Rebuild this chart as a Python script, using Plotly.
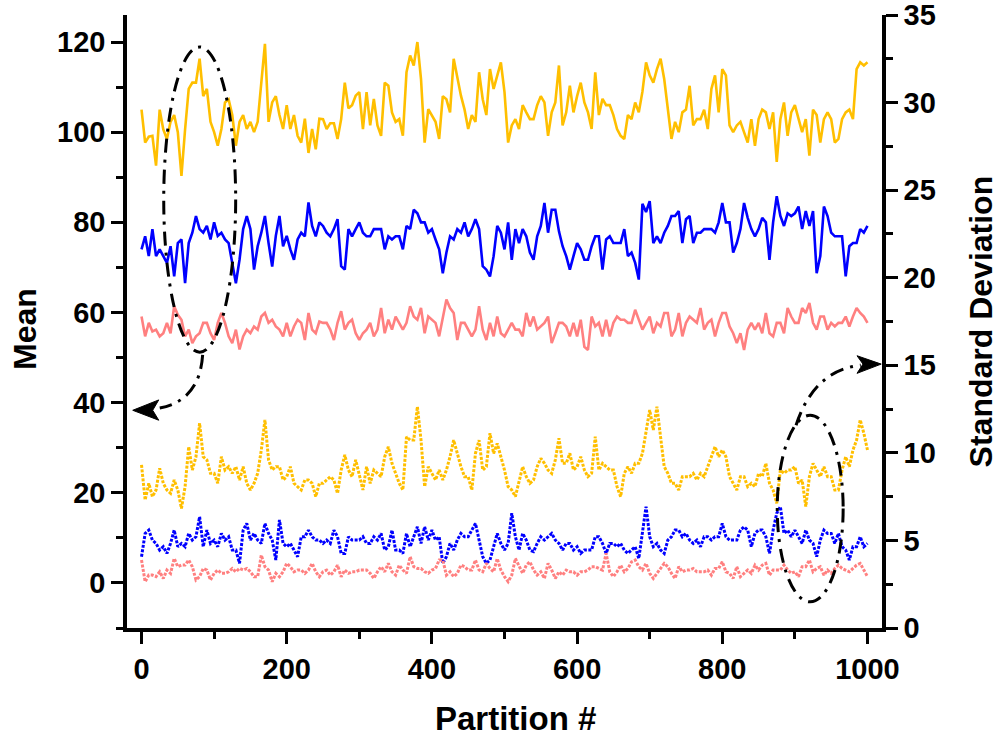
import plotly.graph_objects as go

# Partition index (every 5th partition)
partition = list(range(0, 1001, 5))

# Mean per partition (left axis)
mean_a = [
    105.0, 97.7, 99.0, 99.2, 92.6, 105.0, 100.6, 98.5, 102.3, 103.8,
    100.0, 90.3, 100.6, 109.6, 111.0, 111.0, 116.3, 108.0, 109.6, 102.3,
    100.0, 97.0, 100.7, 106.6, 107.3, 103.8, 97.0, 102.3, 103.8, 100.7,
    102.3, 100.0, 102.3, 111.8, 119.6, 102.3, 106.6, 108.0, 103.8, 100.7,
    106.0, 100.7, 103.8, 99.2, 97.7, 103.0, 95.4, 100.7, 96.2, 103.0,
    102.9, 100.7, 102.0, 102.0, 98.5, 102.9, 111.0, 105.3, 106.0, 108.1,
    108.9, 100.7, 108.9, 101.5, 107.4, 101.5, 99.2, 111.0, 110.3, 104.4,
    102.3, 102.9, 99.2, 113.3, 117.0, 114.8, 120.0, 111.8, 97.7, 105.1,
    103.6, 102.3, 98.5, 108.0, 107.3, 104.4, 116.3, 111.8, 108.1, 105.0,
    100.7, 103.8, 102.3, 113.3, 107.3, 103.8, 114.0, 109.6, 112.6, 115.5,
    108.9, 97.7,
    101.5, 102.9, 100.7, 106.0, 104.4, 102.9, 102.9, 106.0, 108.0, 106.6,
    99.2, 104.4, 106.6, 114.8, 101.5, 104.4, 110.3, 104.4, 108.0, 111.0,
    106.6, 104.4, 100.7, 113.3, 103.8, 107.4, 106.0, 106.0, 103.8, 100.7,
    99.2, 98.5, 103.8, 102.9, 106.6, 104.4, 109.0, 115.5, 112.6, 111.0,
    114.0, 116.3, 111.8, 104.4, 98.5, 102.3, 100.0, 104.4, 105.0,
    110.3, 101.5, 102.9, 102.9, 105.0, 100.7, 109.6, 112.6, 104.4, 114.0,
    112.6, 101.5, 100.0, 101.5, 102.3, 100.0, 97.7, 102.9, 97.0, 102.9,
    105.0, 104.4, 100.7, 104.4, 93.4, 102.9, 106.6, 99.2, 104.4, 106.0,
    102.9, 100.0, 102.9, 94.8, 105.0, 103.8, 97.7, 102.9, 104.4, 102.9,
    97.7, 98.5, 102.9, 104.4, 105.0, 102.9, 114.0, 115.5, 114.8, 115.5,
]

mean_b = [
    74.0, 76.9, 72.5, 78.5, 72.5, 74.0, 72.5, 71.0, 74.7, 68.0,
    75.4, 76.2, 66.5, 75.4, 77.7, 81.4, 78.5, 77.7, 79.2, 76.2,
    80.0, 77.0, 77.7, 76.2, 75.4, 71.0, 66.5, 71.7, 78.5, 81.4,
    78.5, 69.5, 74.7, 77.7, 81.4, 75.4, 70.2, 77.0, 81.4, 74.7,
    77.0, 74.0, 71.7, 76.2, 77.7, 76.9, 84.4, 79.2, 76.9, 80.0,
    79.2, 77.7, 76.9, 78.5, 80.7, 70.3, 69.5, 78.5, 76.9, 78.5,
    80.0, 77.7, 76.9, 76.9, 78.5, 78.5, 78.5, 74.0, 76.9, 76.2,
    76.9, 76.9, 74.0, 79.2, 78.5, 82.8, 82.0, 80.0, 80.0, 77.7,
    78.5, 76.2, 74.0, 68.7, 73.3, 76.9, 76.2, 78.5, 77.7, 80.0,
    76.9, 78.5, 80.7, 78.5, 70.3, 69.5, 68.0, 72.5, 79.2, 77.7,
    74.0, 80.0,
    71.7, 78.5, 75.4, 78.5, 76.9, 73.3, 71.7, 76.9, 79.2, 84.3,
    77.7, 82.8, 82.8, 78.0, 74.7, 72.5, 69.5, 72.5, 75.4, 74.0,
    71.7, 71.7, 74.7, 76.9, 76.9, 69.5, 76.2, 76.9, 75.4, 75.4,
    75.4, 78.5, 72.5, 73.3, 71.0, 67.3, 84.1, 82.3, 84.7, 75.4,
    76.9, 75.4, 77.7, 79.2, 81.4, 81.4, 82.5, 75.4, 80.7,
    81.4, 75.4, 77.7, 77.7, 78.5, 78.5, 78.5, 77.7, 80.0, 84.3,
    80.0, 80.0, 73.3, 75.4, 78.5, 84.3, 81.0, 78.5, 76.9, 78.5,
    81.0, 80.0, 71.7, 80.0, 85.8, 81.4, 79.2, 82.0, 81.4, 82.0,
    83.5, 78.5, 82.5, 79.2, 82.5, 68.7, 72.5, 83.5, 81.4, 77.7,
    76.9, 76.9, 76.9, 68.0, 74.7, 75.4, 75.4, 78.5, 77.7, 79.2,
]

mean_c = [
    59.1, 54.7, 57.7, 55.8, 56.2, 54.7, 55.4, 57.7, 55.4, 61.4,
    59.5, 58.4, 54.7, 56.2, 53.2, 54.7, 55.4, 57.7, 57.7, 55.4,
    53.9, 57.7, 59.9, 57.7, 54.7, 53.2, 56.2, 51.8, 54.7, 56.2,
    55.4, 56.9, 56.2, 59.1, 59.9, 57.7, 58.4, 56.9, 56.2, 54.7,
    57.7, 54.7, 56.9, 58.4, 57.7, 53.9, 59.9, 56.2, 55.4, 58.0,
    57.7, 57.7, 56.2, 53.9, 57.7, 60.3, 56.2, 57.7, 58.4, 55.4,
    53.9, 55.4, 56.2, 57.7, 54.7, 56.2, 61.0, 55.4, 58.4, 56.2,
    59.1, 57.7, 56.2, 57.7, 61.4, 59.1, 58.4, 61.0, 55.4, 59.1,
    58.4, 57.7, 54.7, 59.1, 62.9, 61.0, 59.9, 53.9, 57.7, 57.7,
    56.2, 54.7, 56.2, 61.4, 56.2, 53.9, 57.7, 54.7, 59.1, 55.4,
    54.7, 56.2,
    57.7, 56.2, 56.2, 54.7, 59.9, 56.9, 59.1, 56.2, 56.9, 57.7,
    59.1, 53.2, 55.4, 57.7, 57.7, 56.9, 54.7, 57.7, 54.7, 58.4,
    52.4, 51.7, 59.1, 56.9, 57.7, 54.7, 58.4, 54.7, 57.7, 59.1,
    58.4, 58.4, 57.7, 57.7, 60.6, 58.4, 56.2, 57.7, 59.1, 55.4,
    57.7, 56.9, 59.9, 59.9, 54.7, 56.2, 59.9, 54.7, 57.7,
    59.1, 58.4, 57.7, 61.0, 56.2, 57.7, 58.4, 54.7, 57.7, 59.9,
    59.9, 56.9, 55.4, 53.2, 55.4, 51.7, 56.2, 57.7, 56.2, 57.7,
    55.4, 59.9, 55.4, 54.7, 57.7, 57.7, 55.4, 61.0, 59.1, 57.7,
    57.7, 61.0, 59.9, 62.1, 57.7, 56.2, 59.1, 59.1, 56.2, 57.7,
    56.9, 57.7, 57.7, 59.1, 56.9, 59.1, 61.0, 59.9, 59.1, 57.7,
]

# Standard deviation per partition (right axis)
sd_a = [
    9.31, 7.31, 8.26, 7.50, 7.88, 9.12, 8.26, 7.88, 7.69, 8.45,
    7.88, 6.83, 8.07, 10.35, 9.02, 9.78, 11.69, 9.78, 9.60, 8.83,
    8.83, 8.26, 9.78, 9.02, 9.21, 8.83, 9.21, 8.45, 9.21, 8.26,
    7.88, 8.26, 8.83, 10.16, 11.88, 9.60, 9.02, 9.21, 9.21, 8.45,
    8.64, 9.21, 8.26, 8.07, 7.88, 8.45, 8.45, 8.26, 7.50, 8.26,
    8.26, 8.45, 8.64, 8.45, 7.69, 9.02, 9.88, 9.02, 8.64, 9.60,
    8.64, 7.88, 9.21, 8.26, 9.02, 8.83, 8.64, 9.78, 10.35, 9.40,
    8.83, 8.26, 7.88, 10.92, 10.73, 10.73, 12.64, 10.73, 8.07, 9.21,
    8.83, 8.45, 9.02, 8.45, 9.02, 9.78, 10.73, 9.97, 9.21, 8.64,
    8.64, 7.88, 9.97, 10.73, 9.02, 9.21, 11.12, 9.97, 10.54, 9.78,
    9.02, 8.07,
    7.88, 7.50, 8.45, 9.21, 8.64, 8.26, 8.45, 9.21, 9.69, 9.40,
    9.02, 8.83, 9.60, 10.83, 9.40, 9.40, 9.97, 9.02, 9.21, 9.78,
    9.02, 8.64, 8.83, 10.92, 9.02, 9.40, 9.21, 9.02, 9.02, 8.07,
    7.50, 8.83, 9.21, 8.83, 9.40, 9.40, 9.97, 11.10, 12.45, 11.30,
    12.64, 10.90, 9.21, 8.83, 8.26, 8.26, 7.88, 8.64, 8.64,
    8.64, 8.83, 8.45, 8.83, 8.64, 9.21, 9.78, 10.35, 9.78, 10.16,
    9.78, 8.64, 8.26, 7.88, 8.64, 8.64, 8.07, 8.26, 8.07, 8.83,
    8.64, 9.40, 8.26, 7.88, 7.12, 9.02, 8.83, 9.02, 9.02, 9.21,
    8.26, 8.45, 6.93, 8.64, 9.40, 9.02, 8.64, 9.21, 8.64, 8.64,
    7.88, 7.88, 9.02, 9.78, 9.21, 10.16, 10.73, 11.88, 11.12, 10.16,
]

sd_b = [
    4.07, 5.40, 5.59, 5.02, 4.83, 4.45, 4.64, 4.26, 4.83, 5.59,
    4.64, 4.83, 4.64, 5.40, 5.02, 5.21, 6.35, 4.64, 5.59, 4.83,
    5.02, 4.64, 5.40, 5.02, 5.21, 4.45, 4.45, 3.69, 5.59, 5.97,
    5.02, 5.40, 5.02, 4.83, 5.97, 5.40, 5.02, 3.88, 6.17, 4.83,
    4.64, 4.83, 4.45, 4.07, 5.21, 5.21, 5.59, 5.21, 5.02, 5.02,
    4.83, 5.02, 4.83, 5.59, 5.21, 4.26, 4.26, 5.21, 5.02, 5.02,
    5.02, 5.21, 4.83, 4.83, 5.21, 5.02, 5.40, 4.45, 4.64, 5.59,
    4.45, 4.45, 4.26, 5.40, 4.64, 5.21, 5.78, 4.83, 5.78, 5.02,
    5.59, 5.02, 5.21, 3.69, 4.07, 4.83, 4.45, 5.02, 5.40, 5.21,
    5.21, 5.59, 5.97, 5.02, 4.07, 3.69, 3.88, 4.64, 5.40, 4.83,
    4.45, 4.83,
    6.55, 5.21, 4.45, 5.40, 5.02, 4.45, 4.36, 4.83, 5.21, 5.02,
    5.21, 5.40, 5.02, 4.83, 4.45, 4.83, 4.83, 4.45, 4.64, 4.26,
    4.45, 4.45, 4.45, 5.21, 5.21, 4.83, 4.26, 4.83, 4.83, 4.64,
    4.83, 4.45, 4.26, 4.45, 4.64, 3.97, 5.59, 6.93, 5.21, 4.64,
    4.83, 4.45, 4.26, 5.02, 5.21, 5.59, 5.59, 5.21, 5.40,
    5.02, 4.83, 5.02, 4.64, 5.21, 5.21, 5.02, 5.21, 5.21, 5.97,
    5.21, 5.02, 5.02, 5.02, 5.59, 5.78, 5.59, 4.64, 5.40, 5.59,
    5.59, 5.21, 4.26, 5.59, 6.55, 6.93, 5.40, 5.59, 5.21, 5.59,
    5.21, 4.83, 5.59, 5.02, 4.83, 4.07, 5.02, 5.59, 5.40, 5.40,
    4.83, 5.40, 4.64, 4.45, 3.88, 4.64, 4.64, 5.21, 4.64, 4.83,
]

sd_c = [
    3.88, 2.64, 3.02, 3.02, 2.93, 3.21, 2.83, 3.31, 3.12, 3.97,
    3.50, 3.59, 3.59, 3.88, 3.50, 2.74, 2.93, 3.40, 3.31, 2.74,
    3.12, 3.31, 3.12, 3.12, 3.21, 3.40, 3.21, 3.40, 3.31, 3.40,
    3.21, 2.93, 2.93, 4.16, 3.50, 3.31, 2.64, 3.12, 2.93, 3.21,
    3.69, 3.50, 3.21, 3.31, 3.31, 3.12, 3.31, 3.69, 3.21, 2.93,
    3.21, 3.31, 3.02, 3.21, 3.59, 2.93, 3.31, 3.12, 3.21, 3.21,
    3.31, 3.31, 3.31, 3.12, 2.83, 3.21, 3.50, 3.21, 3.69, 3.21,
    3.02, 3.59, 3.31, 3.12, 4.07, 3.50, 3.40, 3.40, 3.21, 3.12,
    3.31, 3.40, 3.88, 3.88, 3.02, 3.21, 2.93, 3.12, 3.59, 3.50,
    3.31, 3.31, 3.88, 3.31, 3.21, 3.69, 3.40, 3.21, 3.97, 3.31,
    2.93, 2.64,
    3.02, 3.97, 3.50, 3.12, 3.59, 3.78, 3.31, 3.02, 3.21, 2.83,
    3.69, 3.31, 2.83, 3.21, 3.02, 3.31, 3.21, 3.21, 3.02, 3.21,
    3.21, 3.31, 3.50, 3.50, 3.40, 3.31, 4.26, 3.21, 2.93, 3.21,
    3.59, 3.21, 3.40, 3.78, 3.88, 3.50, 3.31, 3.69, 3.12, 2.83,
    3.12, 3.40, 3.69, 3.50, 3.12, 2.83, 3.50, 3.21, 3.31,
    3.31, 3.40, 3.21, 3.21, 3.21, 3.31, 3.02, 3.40, 3.40, 3.78,
    3.21, 3.12, 2.83, 3.50, 2.93, 3.12, 3.31, 3.12, 3.59, 3.31,
    3.59, 3.69, 3.02, 3.31, 3.31, 3.31, 3.59, 3.31, 3.12, 3.21,
    2.93, 3.50, 3.50, 3.88, 3.21, 3.40, 3.50, 3.02, 3.31, 3.12,
    3.40, 3.59, 3.40, 3.31, 3.21, 3.40, 3.59, 3.69, 3.31, 2.93,
]

x_ticks = [0, 200, 400, 600, 800, 1000]
mean_ticks = [0, 20, 40, 60, 80, 100, 120]
sd_ticks = [0, 5, 10, 15, 20, 25, 30, 35]

YELLOW = "#FFBF00"
BLUE = "#0000FF"
PINK = "#FF8080"

FONT = "Liberation Sans, Arial, sans-serif"

fig = go.Figure()

for vals, color in [(mean_a, YELLOW), (mean_b, BLUE), (mean_c, PINK)]:
    fig.add_trace(go.Scatter(x=partition, y=vals, mode="lines", yaxis="y",
                             line=dict(color=color, width=2.6), showlegend=False))

for vals, color in [(sd_a, YELLOW), (sd_b, BLUE), (sd_c, PINK)]:
    fig.add_trace(go.Scatter(x=partition, y=vals, mode="lines", yaxis="y2",
                             line=dict(color=color, width=3, dash="3px,1.5px"),
                             showlegend=False))

axis_common = dict(showline=True, linecolor="black", linewidth=3.5,
                   ticks="outside", ticklen=12, tickwidth=3, tickcolor="black",
                   showgrid=False, zeroline=False, ticklabeloverflow="allow",
                   automargin=False)

fig.update_layout(
    width=1003, height=740,
    margin=dict(l=127, r=121, t=15, b=112),
    paper_bgcolor="white", plot_bgcolor="white",
    xaxis=dict(range=[-20, 1020], tickvals=x_ticks,
               tickfont=dict(family=FONT, size=29, color="black", weight="bold"),
               minor=dict(dtick=100, tick0=0, ticks="outside", ticklen=7,
                          tickwidth=3, tickcolor="black"),
               **axis_common),
    yaxis=dict(range=[-10, 126], tickvals=mean_ticks,
               tickfont=dict(family=FONT, size=29, color="black", weight="bold"),
               minor=dict(dtick=10, tick0=0, ticks="outside", ticklen=7,
                          tickwidth=3, tickcolor="black"),
               **axis_common),
    yaxis2=dict(range=[0, 35], tickvals=sd_ticks, overlaying="y", side="right",
                anchor="x",
                tickfont=dict(family=FONT, size=29, color="black", weight="bold"),
                minor=dict(dtick=2.5, tick0=0, ticks="outside", ticklen=7,
                           tickwidth=3, tickcolor="black"),
                **axis_common),
)

# Axis titles
title_font = dict(family=FONT, size=32, color="black", weight="bold")
fig.add_annotation(text="Mean", xref="paper", yref="paper", x=-0.135, y=0.488,
                   textangle=-90, showarrow=False, font=title_font,
                   xanchor="center", yanchor="middle")
fig.add_annotation(text="Standard Deviation", xref="paper", yref="paper",
                   x=1.131, y=0.5, textangle=-90, showarrow=False,
                   font=title_font, xanchor="center", yanchor="middle")
fig.add_annotation(text="Partition #", xref="paper", yref="paper", x=0.514,
                   y=-0.147, showarrow=False,
                   font=dict(family=FONT, size=33, color="black", weight="bold"),
                   xanchor="center", yanchor="middle")

# Dash-dot callouts marking which curves belong to which axis
callout = dict(color="black", width=3, dash="14px,7px,3px,7px")
fig.add_shape(type="circle", xref="x", yref="y", x0=30.6, x1=129.7,
              y0=51.2, y1=118.9, line=callout)
fig.add_shape(type="path", xref="x", yref="y",
              path="M 84.2,50.6 Q 80.1,40.5 25.1,38.8", line=callout)
fig.add_shape(type="path", xref="x", yref="y",
              path="M -12.1,38.3 L 23.7,40.6 L 15.4,38.3 L 23.7,36.1 Z",
              fillcolor="black", line=dict(color="black", width=1))

fig.add_shape(type="circle", xref="x", yref="y", x0=875.7, x1=966.5,
              y0=-4.2, y1=37.2, line=callout)
fig.add_shape(type="path", xref="x", yref="y",
              path="M 901.6,35.0 Q 926.4,47.2 990.7,48.3", line=callout)
fig.add_shape(type="path", xref="x", yref="y",
              path="M 1018.9,48.55 L 985.6,50.4 L 993.8,48.55 L 985.6,46.5 Z",
              fillcolor="black", line=dict(color="black", width=1))

fig.write_html("out.html")
